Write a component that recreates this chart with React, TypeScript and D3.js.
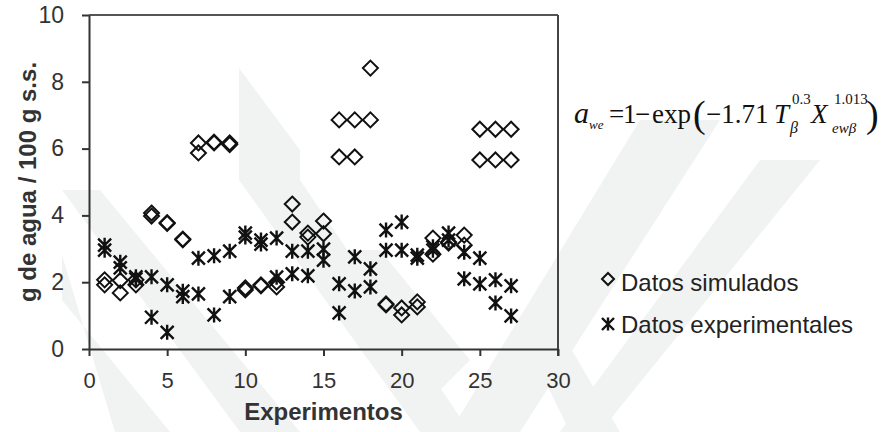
import React, { useEffect, useRef } from "react";
import { select, scaleLinear, axisBottom, axisLeft, range } from "d3";

// experiment numbers 1..27
const experiments = range(1, 28);

// Datos simulados (two replicates per experiment)
const simulatedA = [2.07, 2.05, 2.07, 4.07, 3.78, 3.29, 6.17, 6.19, 6.17, 1.83, 1.92, 2.0, 4.34, 3.47, 3.83, 6.86, 6.86, 8.41, 1.35, 1.23, 1.41, 3.32, 3.2, 3.41, 6.58, 6.58, 6.58];
const simulatedB = [1.92, 1.68, 1.92, 3.98, 3.76, 3.27, 5.87, 6.17, 6.12, 1.77, 1.89, 1.86, 3.8, 3.35, 3.45, 5.75, 5.75, 6.86, 1.32, 1.02, 1.26, 2.84, 3.17, 3.11, 5.66, 5.66, 5.66];

// Datos experimentales
const experimentalA = [3.11, 2.6, 2.16, 2.16, 1.92, 1.73, 2.72, 2.79, 2.93, 3.47, 3.26, 3.32, 2.93, 2.93, 2.99, 1.95, 2.76, 2.4, 3.56, 3.8, 2.81, 3.06, 3.47, 2.9, 2.72, 2.07, 1.89];
const experimentalB = [2.96, 2.43, 2.1, 0.95, 0.5, 1.57, 1.65, 1.02, 1.57, 3.35, 3.14, 2.15, 2.25, 2.19, 2.66, 1.08, 1.74, 1.86, 2.96, 2.96, 2.72, 2.96, 3.26, 2.1, 1.95, 1.38, 0.99];

const xTicks = [0, 5, 10, 15, 20, 25, 30];
const yTicks = [0, 2, 4, 6, 8, 10];

const W = 883;
const H = 432;
const margin = { left: 89, right: 325, top: 15, bottom: 83 };

const diamond = "M0,-7.5L7.5,0L0,7.5L-7.5,0Z";
const star = "M0,-7.5L0,7.5M-6.5,-6.5L6.5,6.5M-6.5,6.5L6.5,-6.5";

const font = "'Liberation Sans', Arial, sans-serif";
const serif = "'Liberation Serif', 'Times New Roman', serif";

const App = () => {
  const xAxisRef = useRef<SVGGElement>(null);
  const yAxisRef = useRef<SVGGElement>(null);

  const x = scaleLinear().domain([0, 30]).range([margin.left, W - margin.right]);
  const y = scaleLinear().domain([0, 10]).range([H - margin.bottom, margin.top]);

  useEffect(() => {
    const gx = select(xAxisRef.current);
    gx.call(axisBottom(x).tickValues(xTicks).tickSize(7).tickPadding(16).tickSizeOuter(0));
    gx.select(".domain").attr("stroke", "#333").attr("stroke-width", 2);
    gx.selectAll(".tick line").attr("stroke", "#333").attr("stroke-width", 2);
    gx.selectAll(".tick text")
      .attr("font-family", font)
      .attr("font-size", 22)
      .attr("fill", "#333");

    const gy = select(yAxisRef.current);
    gy.call(axisLeft(y).tickValues(yTicks).tickSize(7).tickPadding(18).tickSizeOuter(0));
    gy.select(".domain").attr("stroke", "#333").attr("stroke-width", 2);
    gy.selectAll(".tick line").attr("stroke", "#333").attr("stroke-width", 2);
    gy.selectAll(".tick text")
      .attr("font-family", font)
      .attr("font-size", 23)
      .attr("fill", "#333");
  }, []);

  const sim = experiments.flatMap((e, i) => [
    { e, v: simulatedA[i] },
    { e, v: simulatedB[i] },
  ]);
  const exp = experiments.flatMap((e, i) => [
    { e, v: experimentalA[i] },
    { e, v: experimentalB[i] },
  ]);

  return (
    <svg
      width={W}
      height={H}
      style={{ position: "absolute", left: 0, top: 0, background: "#fff" }}
    >
      {/* faint watermark stripes */}
      <g fill="#f1f2f2">
        <polygon points="62,190 100,190 300,432 240,432" />
        <polygon points="62,255 62,300 170,432 115,432" />
        <polygon points="239,68 239,180 420,432 470,432 300,180 300,150" />
        <polygon points="330,250 380,250 470,360 430,400" />
        <polygon points="640,120 720,120 520,432 450,432" />
        <polygon points="760,160 820,160 600,432 560,432" />
        <polygon points="520,330 560,330 620,432 570,432" />
      </g>

      {/* plot frame */}
      <line x1={x(0)} x2={x(30)} y1={y(10)} y2={y(10)} stroke="#555" strokeWidth={2} />
      <line x1={x(30)} x2={x(30)} y1={y(10)} y2={y(0) + 7} stroke="#444" strokeWidth={2} />

      <g ref={xAxisRef} transform={`translate(0,${y(0)})`} />
      <g ref={yAxisRef} transform={`translate(${x(0)},0)`} />

      {/* points */}
      <g fill="none" stroke="#111" strokeWidth={2}>
        {sim.map((d, i) => (
          <path key={"s" + i} d={diamond} transform={`translate(${x(d.e)},${y(d.v)})`} />
        ))}
        {exp.map((d, i) => (
          <path key={"e" + i} d={star} strokeWidth={2.4} transform={`translate(${x(d.e)},${y(d.v)})`} />
        ))}
      </g>

      {/* axis titles */}
      <text
        x={(x(0) + x(30)) / 2}
        y={420}
        textAnchor="middle"
        fontFamily={font}
        fontWeight="bold"
        fontSize={24}
        fill="#333"
      >
        Experimentos
      </text>
      <text
        transform={`translate(36,${(y(0) + y(10)) / 2}) rotate(-90)`}
        textAnchor="middle"
        fontFamily={font}
        fontWeight="bold"
        fontSize={24}
        fill="#333"
      >
        g de agua / 100 g s.s.
      </text>

      {/* legend */}
      <g fill="none" stroke="#111" strokeWidth={2}>
        <path d="M0,-6L6,0L0,6L-6,0Z" transform="translate(608,279)" />
        <path d="M0,-6.5L0,6.5M-6,-6L6,6M-6,6L6,-6" strokeWidth={2.4} transform="translate(608,324)" />
      </g>
      <text x={621} y={291} fontFamily={font} fontSize={24} fill="#222">
        Datos simulados
      </text>
      <text x={621} y={333} fontFamily={font} fontSize={24} fill="#222">
        Datos experimentales
      </text>

      {/* equation */}
      <g fontFamily={serif} fill="#111">
        <text x={574} y={123} fontSize={30} fontStyle="italic">a</text>
        <text x={589} y={129} fontSize={13} fontStyle="italic">we</text>
        <text x={609} y={123} fontSize={27}>=</text>
        <text x={623} y={123} fontSize={27}>1</text>
        <text x={635} y={123} fontSize={27}>−</text>
        <text x={652} y={123} fontSize={27}>exp</text>
        <text x={693} y={127} fontSize={38}>(</text>
        <text x={706} y={123} fontSize={27}>−1.71</text>
        <text x={774} y={123} fontSize={27} fontStyle="italic">T</text>
        <text x={792} y={104} fontSize={15}>0.3</text>
        <text x={790} y={133} fontSize={16} fontStyle="italic">β</text>
        <text x={811} y={123} fontSize={27} fontStyle="italic">X</text>
        <text x={834} y={104} fontSize={15}>1.013</text>
        <text x={832} y={133} fontSize={15} fontStyle="italic">ewβ</text>
        <text x={866} y={127} fontSize={38}>)</text>
      </g>
    </svg>
  );
};

export default App;
